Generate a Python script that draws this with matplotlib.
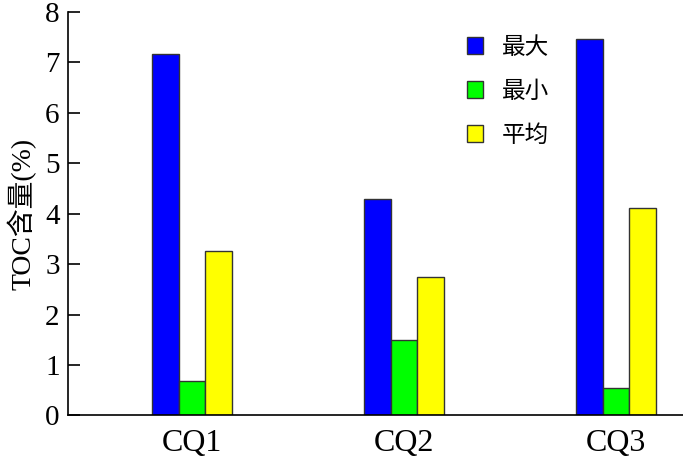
import numpy as np
import matplotlib
matplotlib.use('Agg')
import matplotlib.pyplot as plt

plt.rcParams['font.family'] = ['Liberation Serif', 'Noto Sans CJK SC']

groups = ['CQ1', 'CQ2', 'CQ3']
series = ['最大', '最小', '平均']
max_vals = [7.16, 4.29, 7.46]
min_vals = [0.69, 1.50, 0.55]
avg_vals = [3.25, 2.74, 4.10]
colors = ['#0000ff', '#00ff00', '#ffff00']
yticks = [0, 1, 2, 3, 4, 5, 6, 7, 8]

fig = plt.figure(figsize=(6.83, 4.59), dpi=100)
ax = fig.add_axes([0.0996, 0.0948, 0.9004, 0.880])

x = np.arange(len(groups))
w = 0.125
for i, (vals, lbl) in enumerate(zip([max_vals, min_vals, avg_vals], series)):
    ax.bar(x + (i - 1) * w, vals, w, color=colors[i], edgecolor='#333333',
           linewidth=1.0, label=lbl)

ax.set_xlim(-0.585, 2.316)
ax.set_ylim(0, 8)
ax.set_xticks(x)
ax.set_xticklabels(groups, fontsize=23)
ax.tick_params(axis='x', length=0, pad=10)
ax.set_yticks(yticks)
ax.tick_params(axis='y', direction='in', length=8.6, width=1.2, labelsize=21, pad=6)
for s in ['top', 'right']:
    ax.spines[s].set_visible(False)
ax.spines['left'].set_linewidth(1.2)
ax.spines['bottom'].set_linewidth(1.2)
ax.set_ylabel('TOC含量(%)', fontsize=20, labelpad=6)

leg = ax.legend(loc='upper left', bbox_to_anchor=(0.615, 0.99), frameon=False,
                fontsize=17, handlelength=0.65, handleheight=0.7,
                handletextpad=0.8, labelspacing=0.95)

fig.savefig('out.png', dpi=100)
